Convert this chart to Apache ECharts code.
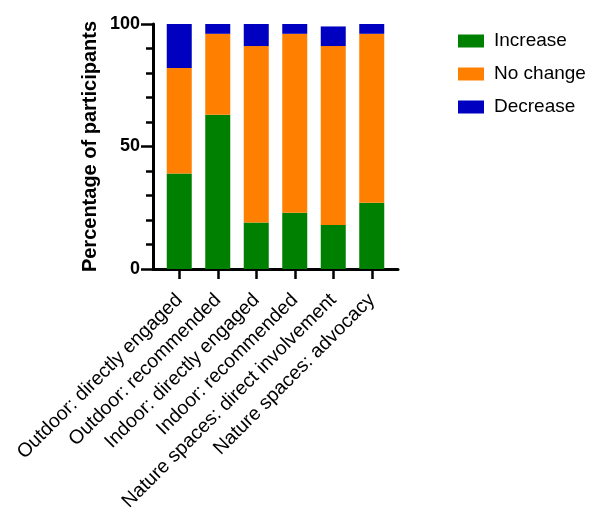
<!DOCTYPE html>
<html>
<head>
<meta charset="utf-8">
<script src="https://cdn.jsdelivr.net/npm/echarts@6/dist/echarts.min.js"></script>
<style>html,body{margin:0;padding:0;background:#fff}#c{width:595px;height:509px}</style>
</head>
<body>
<div id="c"></div>
<script>
var categories = ['Outdoor: directly engaged', 'Outdoor: recommended', 'Indoor: directly engaged', 'Indoor: recommended', 'Nature spaces: direct involvement', 'Nature spaces: advocacy'];
var increase = [39, 63, 19, 23, 18, 27];
var noChange = [43, 33, 72, 73, 73, 69];
var decrease = [18, 4, 9, 4, 8, 4];
var yTicks = [0, 50, 100];

var font = 'Liberation Sans, Arial, sans-serif';
var chart = echarts.init(document.getElementById('c'));
chart.setOption({
  animation: false,
  backgroundColor: '#fff',
  grid: [
    {left: 160, right: 204, top: 24, bottom: 240, containLabel: false, outerBoundsMode: 'none'},
    {left: 153, right: 197, top: 24, bottom: 240, containLabel: false, outerBoundsMode: 'none'}
  ],
  legend: {
    orient: 'vertical', left: 453, top: 26,
    icon: 'rect',
    itemWidth: 26, itemHeight: 13, itemGap: 13,
    textStyle: {fontFamily: font, fontSize: 19, lineHeight: 20, color: '#000', padding: [0, 0, 0, 5]},
    data: ['Increase', 'No change', 'Decrease']
  },
  xAxis: [
    {
      type: 'category', gridIndex: 0, data: categories,
      axisLine: {show: false},
      axisTick: {show: true, alignWithLabel: true, length: 10, lineStyle: {color: '#000', width: 2.5}},
      axisLabel: {rotate: 45, interval: 0, margin: 28, color: '#000', fontFamily: font, fontSize: 19.5}
    },
    {
      type: 'value', gridIndex: 1, min: 0, max: 1,
      axisLine: {show: true, lineStyle: {color: '#000', width: 3}},
      axisTick: {show: false}, axisLabel: {show: false}, splitLine: {show: false}
    }
  ],
  yAxis: [
    {
      type: 'value', gridIndex: 0, min: 0, max: 100, show: false, splitLine: {show: false}
    },
    {
      type: 'value', gridIndex: 1, min: yTicks[0], max: yTicks[yTicks.length - 1], interval: 50,
      name: 'Percentage of participants', nameLocation: 'middle', nameGap: 53,
      nameTextStyle: {fontFamily: font, fontSize: 20, fontWeight: 'bold', color: '#000'},
      axisLine: {show: true, lineStyle: {color: '#000', width: 3}},
      axisTick: {show: true, length: 12, lineStyle: {color: '#000', width: 2.5}},
      minorTick: {show: true, splitNumber: 5, length: 7, lineStyle: {color: '#000', width: 2.5}},
      axisLabel: {margin: 13, color: '#000', fontFamily: font, fontSize: 18, fontWeight: 'bold'},
      splitLine: {show: false}
    }
  ],
  series: [
    {name: 'Increase', type: 'bar', stack: 's', data: increase, barWidth: 25, itemStyle: {color: '#008000'}, xAxisIndex: 0, yAxisIndex: 0},
    {name: 'No change', type: 'bar', stack: 's', data: noChange, barWidth: 25, itemStyle: {color: '#FF8000'}, xAxisIndex: 0, yAxisIndex: 0},
    {name: 'Decrease', type: 'bar', stack: 's', data: decrease, barWidth: 25, itemStyle: {color: '#0000C0'}, xAxisIndex: 0, yAxisIndex: 0}
  ]
});
</script>
</body>
</html>
